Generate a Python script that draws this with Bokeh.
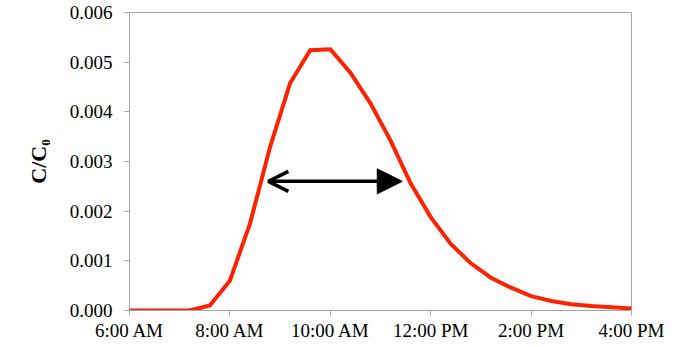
from bokeh.plotting import figure
from bokeh.models import Range1d, FixedTicker, NumeralTickFormatter, Arrow, OpenHead, NormalHead
from bokeh.embed import file_html
from bokeh.resources import INLINE

# Data (time of day, 24-min steps) and normalized concentration C/C0
times = ["6:00", "6:24", "6:48", "7:12", "7:36", "8:00", "8:24", "8:48", "9:12", "9:36",
         "10:00", "10:24", "10:48", "11:12", "11:36", "12:00", "12:24", "12:48", "13:12",
         "13:36", "14:00", "14:24", "14:48", "15:12", "15:36", "16:00"]
conc = [0.0, 0.0, 0.0, 0.0, 0.0001, 0.0006, 0.00175, 0.00329, 0.00458, 0.00524,
        0.00526, 0.00479, 0.00417, 0.00342, 0.00256, 0.00188, 0.00134, 0.00095, 0.00066,
        0.00046, 0.00029, 0.00019, 0.000125, 0.00009, 0.000065, 0.00004]

tick_hours = [6, 8, 10, 12, 14, 16]
tick_labels = ["6:00 AM", "8:00 AM", "10:00 AM", "12:00 PM", "2:00 PM", "4:00 PM"]
y_ticks = [0.0, 0.001, 0.002, 0.003, 0.004, 0.005, 0.006]

# arrow spanning the curve (start/end times, level)
arrow_start = "8:46"
arrow_end = "11:26"
arrow_level = 0.0026


def to_hours(s):
    h, m = s.split(":")
    return int(h) + int(m) / 60.0


hours = [to_hours(t) for t in times]

p = figure(width=666, height=343, output_backend="svg", toolbar_location=None,
           x_range=Range1d(6, 16), y_range=Range1d(0, 0.006),
           min_border_left=129, min_border_right=35, min_border_top=12, min_border_bottom=0)

p.outline_line_color = "#A6A6A6"
p.outline_line_width = 1
p.xgrid.visible = False
p.ygrid.visible = False

p.line(hours, conc, line_color="#FF2200", line_width=4, line_join="miter")

p.add_layout(Arrow(x_start=to_hours(arrow_start), y_start=arrow_level,
                   x_end=to_hours(arrow_end), y_end=arrow_level,
                   line_width=3.5, line_color="black",
                   start=OpenHead(size=20, line_width=3.5, line_color="black"),
                   end=NormalHead(size=25, fill_color="black", line_color="black")))

font = "Liberation Serif"
for ax in (p.xaxis[0], p.yaxis[0]):
    ax.axis_line_color = "#A6A6A6"
    ax.major_tick_line_color = "#A6A6A6"
    ax.minor_tick_line_color = None
    ax.major_tick_out = 5
    ax.major_tick_in = 0
    ax.major_label_text_font = font
    ax.major_label_text_font_size = "19px"
    ax.major_label_text_color = "black"

p.xaxis.ticker = FixedTicker(ticks=tick_hours)
p.xaxis.major_label_overrides = {h: l for h, l in zip(tick_hours, tick_labels)}
p.xaxis.major_label_standoff = 4

p.yaxis.ticker = FixedTicker(ticks=y_ticks)
p.yaxis.formatter = NumeralTickFormatter(format="0.000")
p.yaxis.major_label_standoff = 12
p.yaxis.axis_label = "C/C₀"
p.yaxis.axis_label_text_font = font
p.yaxis.axis_label_text_font_style = "bold"
p.yaxis.axis_label_text_font_size = "22px"
p.yaxis.axis_label_text_color = "black"
p.yaxis.axis_label_standoff = 16

open("out.html", "w").write(file_html(p, INLINE))
